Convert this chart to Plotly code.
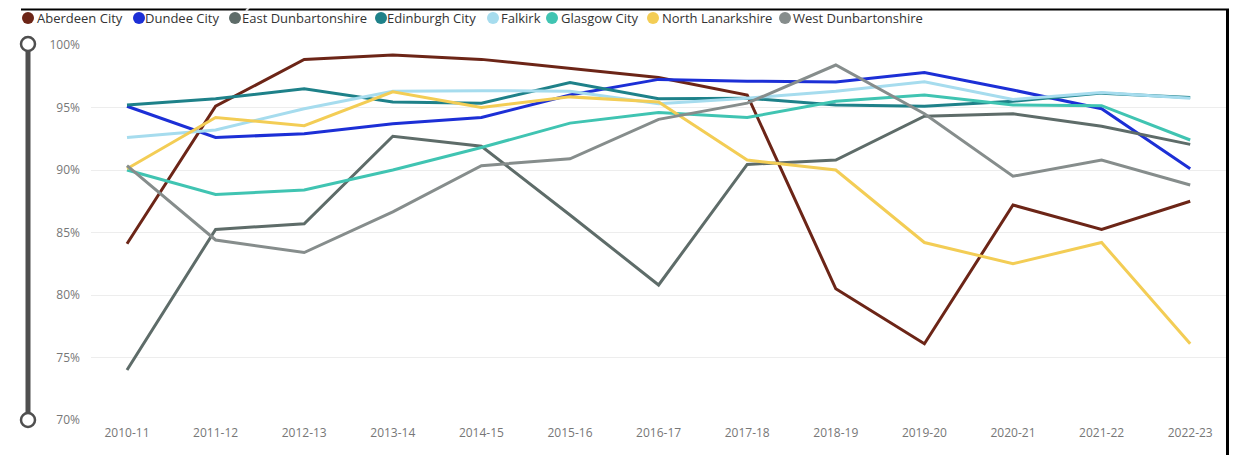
import plotly.graph_objects as go

years = ["2010-11", "2011-12", "2012-13", "2013-14", "2014-15", "2015-16", "2016-17",
         "2017-18", "2018-19", "2019-20", "2020-21", "2021-22", "2022-23"]

aberdeen_city = [84.1, 95.1, 98.85, 99.2, 98.85, 98.1, 97.4, 96.0, 80.5, 76.1, 87.2, 85.25, 87.5]
dundee_city = [95.1, 92.6, 92.9, 93.7, 94.2, 96.0, 97.25, 97.1, 97.05, 97.8, 96.4, 94.9, 90.1]
east_dunbartonshire = [74.0, 85.25, 85.7, 92.7, 91.9, 86.4, 80.8, 90.45, 90.8, 94.3, 94.5, 93.5, 92.05]
edinburgh_city = [95.2, 95.7, 96.5, 95.45, 95.35, 97.0, 95.7, 95.75, 95.2, 95.1, 95.5, 96.15, 95.8]
falkirk = [92.6, 93.2, 94.9, 96.3, 96.35, 96.3, 95.3, 95.75, 96.3, 97.05, 95.65, 96.2, 95.75]
glasgow_city = [90.0, 88.05, 88.4, 90.0, 91.8, 93.75, 94.6, 94.2, 95.5, 96.0, 95.2, 95.15, 92.4]
north_lanarkshire = [90.1, 94.2, 93.55, 96.25, 95.0, 95.85, 95.45, 90.8, 90.0, 84.2, 82.5, 84.2, 76.1]
west_dunbartonshire = [90.35, 84.4, 83.4, 86.65, 90.35, 90.9, 94.05, 95.35, 98.4, 94.5, 89.5, 90.8, 88.8]

series_names = ["Aberdeen City", "Dundee City", "East Dunbartonshire", "Edinburgh City",
                "Falkirk", "Glasgow City", "North Lanarkshire", "West Dunbartonshire"]
series_values = [aberdeen_city, dundee_city, east_dunbartonshire, edinburgh_city,
                 falkirk, glasgow_city, north_lanarkshire, west_dunbartonshire]
series_colors = ["#6C2517", "#1C2FD6", "#5E6C69", "#1E8189", "#A6DCEE", "#40C4B2", "#F3CD55", "#868D8C"]

y_ticks = [70, 75, 80, 85, 90, 95, 100]
y_tick_labels = ["70%", "75%", "80%", "85%", "90%", "95%", "100%"]

# layout geometry (screen pixels); the page body has an 8px margin
OFF = 8
W, H = 1240 - OFF, 455 - OFF
PL, PR, PT, PB = 91, 1226, 45, 420  # plot area in screen pixels


def px(x):
    return (x - PL) / (PR - PL)


def py(y):
    return (PB - y) / (PB - PT)


fig = go.Figure()
for name, vals, col in zip(series_names, series_values, series_colors):
    fig.add_trace(go.Scatter(x=years, y=vals, name=name, mode="lines",
                             line=dict(color=col, width=3), showlegend=False))

shapes = []
annotations = []

# manual legend
legend_circle_x = [28, 139, 235, 381, 493, 552, 653, 785]
legend_text_x = [37, 145, 242, 387, 501, 561, 662, 793]
ly = 18
for cx, tx, name, col in zip(legend_circle_x, legend_text_x, series_names, series_colors):
    shapes.append(dict(type="circle", xref="paper", yref="paper",
                       x0=px(cx - 6), x1=px(cx + 6), y0=py(ly + 6), y1=py(ly - 6),
                       fillcolor=col, line=dict(width=0)))
    annotations.append(dict(xref="paper", yref="paper", x=px(tx - 2), y=py(ly),
                            xanchor="left", yanchor="middle", showarrow=False, text=name,
                            font=dict(family="Open Sans", size=13, color="#333333")))

# slider on the left
shapes.append(dict(type="line", xref="paper", yref="paper", x0=px(28), x1=px(28),
                   y0=py(48), y1=py(416), line=dict(color="#4F4F4F", width=5)))
for cy in [44, 420]:
    shapes.append(dict(type="circle", xref="paper", yref="paper",
                       x0=px(21), x1=px(35), y0=py(cy + 7), y1=py(cy - 7),
                       fillcolor="white", line=dict(color="#4F4F4F", width=2.5)))

# frame lines
shapes.append(dict(type="line", xref="paper", yref="paper", x0=px(21), x1=px(1229),
                   y0=py(9.5), y1=py(9.5), line=dict(color="black", width=2)))
shapes.append(dict(type="line", xref="paper", yref="paper", x0=px(1227.5), x1=px(1227.5),
                   y0=py(9), y1=py(460), line=dict(color="black", width=3)))
shapes.append(dict(type="line", xref="paper", yref="paper", x0=px(255), x1=px(246),
                   y0=py(0), y1=py(11), line=dict(color="#E2E2E2", width=2)))

step = 88.6
x0c = 127
fig.update_layout(
    width=W, height=H,
    margin=dict(l=PL - OFF, r=(W + OFF) - PR, t=PT - OFF, b=(H + OFF) - PB, pad=0),
    paper_bgcolor="white", plot_bgcolor="white",
    showlegend=False,
    shapes=shapes,
    annotations=annotations,
    font=dict(family="Open Sans", size=12, color="#777777"),
    xaxis=dict(type="category", range=[(PL - x0c) / step, (PR - x0c) / step],
               showgrid=False, zeroline=False, showline=False, ticks="",
               tickfont=dict(family="Open Sans", size=12, color="#777777"),
               ticklabelstandoff=4),
    yaxis=dict(range=[70, 100], tickvals=y_ticks, ticktext=y_tick_labels,
               showgrid=True, gridcolor="#EDEDED", gridwidth=1, zeroline=False,
               showline=False, ticks="", ticklabelstandoff=10,
               tickfont=dict(family="Open Sans", size=12, color="#777777")),
)

fig.write_html("out.html")
